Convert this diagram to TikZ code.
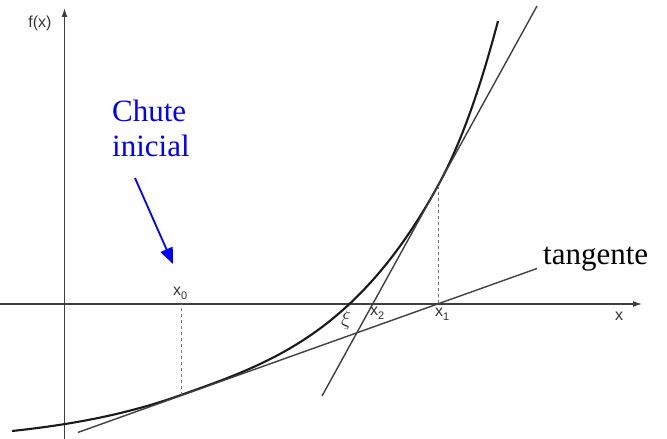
\documentclass[tikz,border=0pt]{standalone}
\usepackage{fontspec}
\setmainfont{Liberation Serif}
\setsansfont{Liberation Sans}
\usetikzlibrary{arrows.meta}
\begin{document}
\begin{tikzpicture}[x=1pt,y=1pt,
  axis/.style={draw=black!75, line width=1.3pt, -{Latex[length=9pt,width=6pt]}},
  curve/.style={draw=black!90, line width=2.1pt},
  tanline/.style={draw=black!75, line width=1.4pt},
  guide/.style={draw=black!55, line width=1pt, dash pattern=on 3pt off 3pt},
  lbl/.style={font=\sffamily\fontsize{16}{18}\selectfont, text=black!80, inner sep=0pt},
  big/.style={font=\fontsize{31}{35}\selectfont, inner sep=0pt, align=left},
  blue arrow/.style={draw=pureblue, line width=1.8pt, -{Triangle[length=16pt,width=13pt]}},
]
\definecolor{pureblue}{RGB}{0,0,255}
\useasboundingbox (0,0) rectangle (667,439);

% axes
\coordinate (xl) at (0,135);
\coordinate (xr) at (642,135);
\coordinate (yb) at (64.5,0);
\coordinate (yt) at (64.5,431);
\draw[axis] (xl) -- (xr);
\draw[axis] (yb) -- (yt);

% curve points
\coordinate (c0) at (12,8);
\coordinate (p0) at (181,44);
\coordinate (p1) at (438,253.4);
\coordinate (c4) at (498,418);
\draw[curve] (c0) .. controls (68,14) and (124,23.6) .. (p0)
  .. controls (268,75) and (356,104) .. (p1)
  .. controls (458,289.7) and (478,342) .. (c4);

% tangents
\coordinate (t1a) at (78,6.6);
\coordinate (t1b) at (537,170.5);
\coordinate (t2a) at (322,43);
\coordinate (t2b) at (537,433);
\draw[tanline] (t1a) -- (t1b);
\draw[tanline] (t2a) -- (t2b);

% dashed guides
\draw[guide] (p0) -- (p0 |- xl);
\draw[guide] (p1) -- (p1 |- xl);

% labels
\node[lbl] (fx) at (40,416) {f(x)};
\node[lbl, anchor=base] (xlab) at (619,118) {x};
\node[lbl, anchor=base west] (x0) at (173,143) {x\raisebox{-4pt}{\fontsize{11}{12}\selectfont 0}};
\node[lbl, anchor=base west] (x2) at (370,123) {x\raisebox{-4pt}{\fontsize{11}{12}\selectfont 2}};
\node[lbl, anchor=base west] (x1) at (435,122) {x\raisebox{-4pt}{\fontsize{11}{12}\selectfont 1}};
\node[lbl, scale=1.2] (xi) at (346,119) {$\xi$};

% text annotations
\node[big, text=pureblue, anchor=north west] (chute) at (112,339) {Chute\\inicial};
\node[big, anchor=base west] (tang) at (543,174) {tangente};

% blue arrow
\coordinate (ar1) at (135,261);
\coordinate (ar2) at (173,175);
\draw[blue arrow] (ar1) -- (ar2);
\end{tikzpicture}
\end{document}
